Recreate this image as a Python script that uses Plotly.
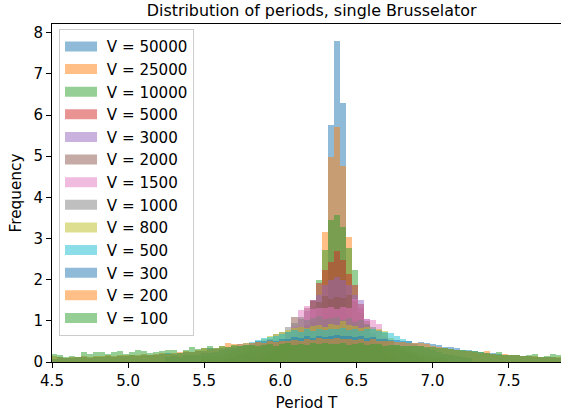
import numpy as np
import plotly.graph_objects as go

# ---------------- data ----------------
volumes = [50000, 25000, 10000, 5000, 3000, 2000, 1500, 1000, 800, 500, 300, 200, 100]
colors = ["#1f77b4", "#ff7f0e", "#2ca02c", "#d62728", "#9467bd", "#8c564b",
          "#e377c2", "#7f7f7f", "#bcbd22", "#17becf", "#1f77b4", "#ff7f0e", "#2ca02c"]

bin_first_edge = 4.454
bin_width = 0.0395
n_bins = 86

# index of first bin of each series
start_bin = {50000: 45, 25000: 44, 10000: 42, 5000: 41, 3000: 39, 2000: 36,
             1500: 34, 1000: 30, 800: 26, 500: 20, 300: 0, 200: 0, 100: 0}

freq_50000 = [0.10, 1.20, 5.76, 7.80, 6.30, 1.00, 0.10]
freq_25000 = [0.15, 0.90, 3.15, 4.99, 5.71, 4.77, 3.03, 1.00, 0.20]
freq_10000 = [0.10, 0.35, 1.00, 1.99, 2.71, 3.46, 3.58, 3.27, 2.78, 2.23, 1.20, 0.50, 0.15]
freq_5000 = [0.10, 0.40, 0.90, 1.50, 1.91, 2.23, 2.42, 2.69, 2.47, 2.13, 1.87, 1.40,
             0.90, 0.60, 0.25, 0.08]
freq_3000 = [0.10, 0.25, 0.50, 0.85, 1.25, 1.50, 1.63, 1.87, 2.00,
             2.06, 2.00, 1.87, 1.63, 1.50, 1.05, 0.60, 0.28, 0.10]
freq_2000 = [0.10, 0.18, 0.30, 0.48, 0.72, 1.10, 1.05,
             1.30, 1.48, 1.45, 1.60, 1.52,
             1.58, 1.55, 1.62, 1.48, 1.32, 1.00, 0.70, 0.42, 0.22, 0.10]
freq_1500 = [0.10, 0.14, 0.20, 0.28, 0.38, 0.52, 0.70, 0.88, 1.27,
             1.35, 1.28, 1.31, 1.30, 1.33,
             1.28, 1.34, 1.30, 1.52, 1.31, 1.05, 1.02, 0.92, 0.60, 0.35, 0.18]
freq_1000 = [0.10, 0.13, 0.17, 0.22, 0.28, 0.35, 0.44, 0.55, 0.68,
             0.74, 0.86, 0.95, 1.10, 1.02, 1.06, 1.12, 1.04, 1.08,
             1.10, 1.03, 1.07, 0.98, 1.01, 0.92, 0.85, 0.78, 0.70, 0.52, 0.40,
             0.30, 0.22, 0.16, 0.11]
freq_800 = [0.12, 0.15, 0.14, 0.18, 0.22, 0.27, 0.30, 0.36, 0.42, 0.48, 0.55, 0.62, 0.68,
            0.72, 0.78, 0.83, 0.86, 0.82, 0.88, 0.90, 0.86, 0.92,
            0.89, 1.00, 0.91, 0.87, 0.82, 0.84, 0.79, 0.80, 0.76, 0.58,
            0.40, 0.34, 0.28, 0.24, 0.20, 0.16, 0.13, 0.11, 0.09]
freq_500 = [0.12, 0.14, 0.13, 0.16, 0.18, 0.17, 0.21, 0.23, 0.25, 0.28, 0.31, 0.35, 0.40, 0.46,
            0.49, 0.53, 0.58, 0.60, 0.63, 0.68, 0.72, 0.77, 0.74, 0.79, 0.76, 0.80, 0.78, 0.81,
            0.79, 0.82, 0.77, 0.80, 0.76, 0.79, 0.80, 0.75, 0.72, 0.70, 0.62, 0.55, 0.50, 0.44,
            0.38, 0.33, 0.28, 0.24, 0.20, 0.17, 0.14, 0.12, 0.10]
freq_300 = [0.10, 0.08, 0.11, 0.09, 0.10, 0.12, 0.11, 0.10, 0.13, 0.12, 0.14, 0.13, 0.15,
            0.14, 0.16, 0.15, 0.17, 0.18, 0.17,
            0.19, 0.21, 0.20, 0.23, 0.25, 0.24, 0.27, 0.26, 0.34, 0.31, 0.33, 0.37, 0.39,
            0.44, 0.42,
            0.47, 0.51, 0.50, 0.54, 0.52, 0.57, 0.55, 0.60, 0.58, 0.62, 0.59, 0.64, 0.61, 0.63,
            0.65, 0.62, 0.64, 0.60, 0.63, 0.58, 0.60, 0.56, 0.57, 0.53, 0.54, 0.50, 0.51,
            0.47, 0.48,
            0.45, 0.43, 0.41, 0.37, 0.36, 0.33, 0.30, 0.28, 0.26, 0.24, 0.22, 0.21, 0.19,
            0.18, 0.17, 0.16, 0.15, 0.14, 0.13, 0.12, 0.12, 0.11, 0.10]
freq_200 = [0.15, 0.14, 0.12, 0.10, 0.12, 0.11, 0.14, 0.13, 0.15, 0.14, 0.16, 0.15, 0.17,
            0.16, 0.18, 0.17, 0.19, 0.18, 0.20,
            0.21, 0.20, 0.23, 0.24, 0.26, 0.25, 0.29, 0.33, 0.31, 0.35, 0.38, 0.46, 0.44,
            0.43, 0.46,
            0.45, 0.48, 0.47, 0.50, 0.49, 0.52, 0.51, 0.54, 0.50, 0.56, 0.53, 0.58, 0.55, 0.57,
            0.58, 0.55, 0.57, 0.54, 0.56, 0.52, 0.55, 0.51, 0.50, 0.52, 0.48, 0.49, 0.46,
            0.47, 0.46,
            0.44, 0.38, 0.36, 0.33, 0.31, 0.30, 0.27, 0.26, 0.25, 0.23, 0.27, 0.20, 0.18,
            0.19, 0.17, 0.16, 0.15, 0.14, 0.15, 0.13, 0.12, 0.13, 0.11]
freq_100 = [0.21, 0.20, 0.16, 0.13, 0.15, 0.13, 0.24, 0.19, 0.25, 0.25, 0.19, 0.25, 0.26,
            0.19, 0.24, 0.29, 0.27, 0.23, 0.25,
            0.27, 0.30, 0.28, 0.22, 0.28, 0.36, 0.31, 0.34, 0.38, 0.35, 0.40, 0.37, 0.41,
            0.39, 0.42,
            0.41, 0.39, 0.42, 0.44, 0.40, 0.43, 0.45, 0.42, 0.44, 0.41, 0.45, 0.43, 0.46, 0.44,
            0.43, 0.45, 0.42, 0.44, 0.46, 0.41, 0.43, 0.44, 0.40, 0.42, 0.41, 0.39, 0.40,
            0.38, 0.39,
            0.37, 0.36, 0.35, 0.33, 0.32, 0.30, 0.28, 0.27, 0.26, 0.24, 0.22, 0.20, 0.25,
            0.18, 0.18, 0.16, 0.15, 0.16, 0.19, 0.13, 0.14, 0.19, 0.17]

frequencies = {50000: freq_50000, 25000: freq_25000, 10000: freq_10000, 5000: freq_5000,
               3000: freq_3000, 2000: freq_2000, 1500: freq_1500, 1000: freq_1000,
               800: freq_800, 500: freq_500, 300: freq_300, 200: freq_200, 100: freq_100}

x_ticks = [4.5, 5.0, 5.5, 6.0, 6.5, 7.0, 7.5]
y_ticks = [0, 1, 2, 3, 4, 5, 6, 7, 8]

# ---------------- figure ----------------
bin_centers = bin_first_edge + bin_width * (np.arange(n_bins) + 0.5)


def rgba(hex_color, a):
    h = hex_color.lstrip("#")
    r, g, b = int(h[0:2], 16), int(h[2:4], 16), int(h[4:6], 16)
    return f"rgba({r},{g},{b},{a})"


fig = go.Figure()
for v, c in zip(volumes, colors):
    vals = frequencies[v]
    s = start_bin[v]
    fig.add_trace(go.Bar(
        x=bin_centers[s:s + len(vals)], y=vals, width=bin_width,
        marker=dict(color=rgba(c, 0.5), line=dict(width=0)),
        showlegend=False, hoverinfo="skip"))

# legend entries (patch-like)
for v, c in zip(volumes, colors):
    fig.add_trace(go.Scatter(
        x=[None], y=[None], mode="lines", name=f"\u00a0V = {v}",
        line=dict(color=rgba(c, 0.5), width=11), showlegend=True))

axis_font = dict(family="DejaVu Sans", size=15, color="black")
fig.update_layout(
    width=561, height=415,
    margin=dict(l=52, r=0, t=24, b=52.5),
    barmode="overlay", bargap=0,
    plot_bgcolor="white", paper_bgcolor="white",
    font=axis_font,
    title=dict(text="Distribution of periods, single Brusselator",
               font=dict(family="DejaVu Sans", size=15.9, color="black"),
               x=0.51, xref="paper", xanchor="center",
               y=0.975, yref="container", yanchor="middle"),
    legend=dict(x=0.0138, y=0.985, xanchor="left", yanchor="top",
                bgcolor="rgba(255,255,255,0.8)", bordercolor="#cccccc", borderwidth=1,
                font=dict(family="DejaVu Sans", size=15.1, color="black"),
                itemwidth=32, tracegroupgap=0),
    xaxis=dict(range=[4.5, 4.5 + 509 / 152.2], tickvals=x_ticks,
               ticktext=[f"{t:.1f}" for t in x_ticks],
               showline=True, linecolor="black", linewidth=1.1, mirror=True,
               ticks="outside", ticklen=5, tickwidth=1.1, tickcolor="black",
               showgrid=False, zeroline=False,
               title=dict(text="Period T", font=dict(size=15.3), standoff=8)),
    yaxis=dict(range=[0, 338.5 / 41.22], tickvals=y_ticks,
               ticktext=[str(t) for t in y_ticks],
               showline=True, linecolor="black", linewidth=1.1, mirror=False,
               ticks="outside", ticklen=5, tickwidth=1.1, tickcolor="black",
               showgrid=False, zeroline=False,
               title=dict(text="Frequency", font=dict(size=15.3), standoff=8)),
)

fig.write_html("out.html")
